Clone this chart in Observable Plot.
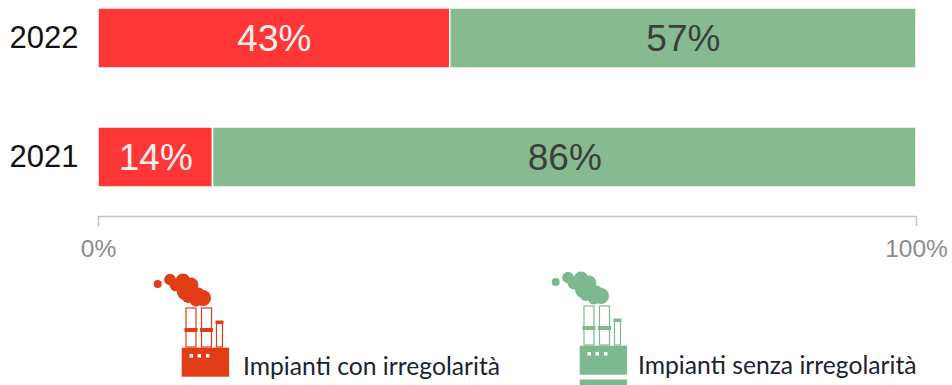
<!DOCTYPE html>
<html lang="it">
<head>
<meta charset="utf-8">
<script src="https://cdn.jsdelivr.net/npm/d3@7"></script>
<script src="https://cdn.jsdelivr.net/npm/@observablehq/plot@0.6"></script>
<style>
html,body{margin:0;padding:0;background:#fff;overflow:hidden}
#wrap{position:relative;width:952px;height:385px;overflow:hidden}
.lg{position:absolute;font-family:Lato,"Open Sans",sans-serif;font-size:24.7px;color:#1b2430;white-space:nowrap;line-height:26px}
svg.icon{position:absolute;overflow:visible}
</style>
</head>
<body>
<div id="wrap"></div>
<script>
const years = ["2022", "2021"];
const withIrregularities = [43, 14];
const withoutIrregularities = [57, 86];
const xTicks = [0, 100];
const seriesNames = ["Impianti con irregolarità", "Impianti senza irregolarità"];
const barColors = ["#FF3638", "#87BB8F"];
const labelColors = ["#FBEFEF", "#3A3F3C"];
const iconColors = ["#E23C16", "#7DB88F"];

const rows = years.flatMap((year, i) => [
  {year, series: seriesNames[0], value: withIrregularities[i]},
  {year, series: seriesNames[1], value: withoutIrregularities[i]}
]);
const font = "'Liberation Sans', Arial, sans-serif";

const chart = Plot.plot({
  width: 952,
  height: 265,
  marginTop: 0,
  marginLeft: 98,
  marginRight: 36,
  marginBottom: 49,
  style: {fontFamily: font, background: "transparent", overflow: "visible"},
  x: {domain: [0, 100]},
  y: {domain: years, range: [0, 195], paddingInner: 0.5, paddingOuter: 0.0693},
  color: {domain: seriesNames, range: barColors},
  marks: [
    Plot.barX(rows, Plot.stackX({x: "value", y: "year", z: "series", order: null, fill: "series", stroke: "#fff", strokeWidth: 1.5})),
    Plot.text(rows, Plot.stackX({
      x: "value", y: "year", z: "series", order: null,
      text: d => d.value + "%",
      fill: d => labelColors[seriesNames.indexOf(d.series)],
      fontSize: 37, dy: 1
    })),
    Plot.axisY({anchor: "left", tickSize: 0, tickPadding: 20, fontSize: 31, color: "#111", label: null}),
    Plot.frame({anchor: "bottom", stroke: "#c4c4c4", strokeWidth: 1.5}),
    Plot.axisX({
      ticks: xTicks, tickSize: 10, tickPadding: 13, stroke: "#c4c4c4", strokeOpacity: 1, strokeWidth: 1.5,
      color: "#8c8c8c", fontSize: 24.5, label: null, tickFormat: d => d + "%"
    })
  ]
});

const wrap = document.getElementById("wrap");
wrap.append(chart);

// factory pictogram used by the legend
function factory(color, left, top, footer) {
  const NS = "http://www.w3.org/2000/svg";
  const svg = document.createElementNS(NS, "svg");
  svg.setAttribute("class", "icon");
  svg.setAttribute("width", 96);
  svg.setAttribute("height", 125);
  svg.style.left = left + "px";
  svg.style.top = top + "px";
  const puffs = [[17.7,19,4],[30,14.5,5.8],[36,20,6.5],[43,16,7.5],[51,20,7.5],[45,27,8],[52,28,7.5],[58,30,7.5],[63,33,8],[56,35,6.5],[48,32,6]];
  let s = puffs.map(([x,y,r]) => `<circle cx="${x}" cy="${y}" r="${r}" fill="${color}"/>`).join("");
  const chimney = (x, w, y0) => `<rect x="${x}" y="${y0}" width="${w}" height="${82 - y0}" fill="none" stroke="${color}" stroke-width="1.2"/>`;
  s += chimney(46, 10, 43) + chimney(61.5, 10, 43) + chimney(76.5, 6, 57);
  s += `<rect x="44.5" y="63" width="13" height="4" fill="${color}"/>`;
  s += `<rect x="60" y="63" width="13" height="4" fill="${color}"/>`;
  s += `<rect x="75.5" y="55.5" width="8" height="3.5" fill="${color}"/>`;
  s += `<rect x="41.7" y="82.7" width="47.4" height="29" fill="${color}"/>`;
  [49.5, 57.5, 66].forEach(x => { s += `<rect x="${x}" y="89" width="3.5" height="3.5" fill="#fff"/>`; });
  if (footer) s += `<rect x="41.7" y="116.5" width="47.4" height="6" fill="${color}"/>`;
  svg.innerHTML = s;
  return svg;
}
wrap.append(factory(iconColors[0], 140, 265, false));
wrap.append(factory(iconColors[1], 538.3, 263.3, true));

function legendText(txt, left, top) {
  const d = document.createElement("div");
  d.className = "lg";
  d.textContent = txt;
  d.style.left = left + "px";
  d.style.top = top + "px";
  wrap.append(d);
}
legendText(seriesNames[0], 243, 353);
legendText(seriesNames[1], 638, 352);
</script>
</body>
</html>
